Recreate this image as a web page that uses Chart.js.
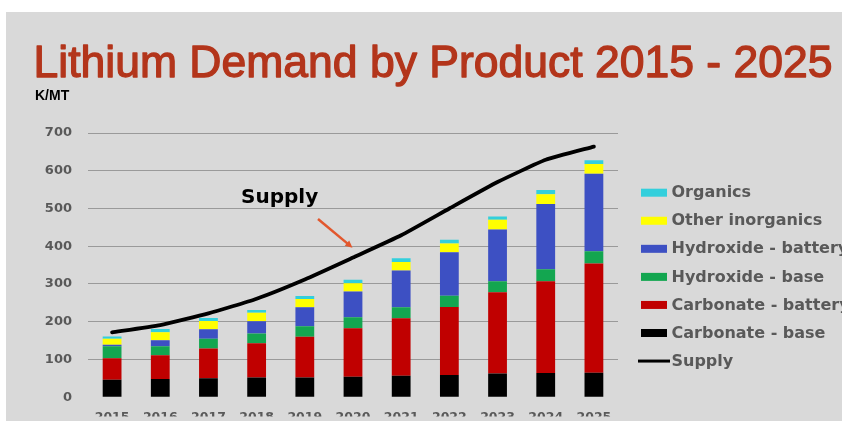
<!DOCTYPE html>
<html>
<head>
<meta charset="utf-8">
<title>Lithium Demand by Product 2015 - 2025</title>
<script src="https://cdn.jsdelivr.net/npm/chart.js@4/dist/chart.umd.min.js"></script>
<style>
  html, body { margin: 0; padding: 0; background: #ffffff; overflow: hidden; }
  #wrap { width: 842px; height: 421px; position: relative; }
</style>
</head>
<body>
<div id="wrap"><canvas id="chart" width="842" height="421"></canvas></div>
<script>
// Years on the category axis
const years = ['2015', '2016', '2017', '2018', '2019', '2020', '2021', '2022', '2023', '2024', '2025'];

// Demand by product, thousand metric tonnes (stacked bottom to top)
const carbonateBase    = [46, 48, 50, 52, 52, 54, 57, 59, 63, 64, 65];
const carbonateBattery = [57, 63, 79, 91, 108, 129, 152, 180, 215, 243, 289];
const hydroxideBase    = [32, 24, 26, 26, 28, 29, 29, 30, 29, 32, 33];
const hydroxideBattery = [4, 16, 25, 32, 50, 68, 98, 115, 137, 173, 205];
const otherInorganics  = [16, 21, 22, 23, 22, 22, 22, 23, 26, 26, 26];
const organics         = [6, 9, 8, 7, 8, 9, 10, 10, 9, 11, 10];

// Total supply
const supply = [172, 191, 222, 261, 312, 370, 429, 500, 570, 629, 664];

// Value axis
const yMax = 700;
const yStep = 100;

const GRID = '#9a9a9a';
const LABEL = '#595959';
const CHART_FONT = '"DejaVu Sans", sans-serif';

function barSet(label, data, color) {
  return {
    type: 'bar', label, data, backgroundColor: color, borderWidth: 0,
    stack: 'demand', order: 1, categoryPercentage: 1, barPercentage: 0.39
  };
}

// Slide backdrop, page title and unit caption
const slidePlugin = {
  id: 'slide',
  beforeDraw(chart) {
    const c = chart.ctx;
    c.save();
    c.fillStyle = '#ffffff';
    c.fillRect(0, 0, chart.width, chart.height);
    c.fillStyle = '#d9d9d9';
    c.fillRect(6, 12, chart.width - 6, chart.height - 12);
    c.restore();
  },
  afterDraw(chart) {
    const c = chart.ctx;
    c.save();
    c.textBaseline = 'alphabetic';
    c.textAlign = 'left';
    c.font = '44.5px "Liberation Sans", Arial, sans-serif';
    c.fillStyle = '#b3351b';
    c.strokeStyle = '#b3351b';
    c.lineWidth = 1.3;
    c.lineJoin = 'round';
    const title = 'Lithium Demand by Product 2015 - 2025';
    c.fillText(title, 33.5, 77);
    c.strokeText(title, 33.5, 77);
    c.font = 'bold 14px "Liberation Sans", Arial, sans-serif';
    c.fillStyle = '#000000';
    c.fillText('K/MT', 35, 100);
    c.restore();
  }
};

// "Supply" callout with an arrow pointing at the line
const calloutPlugin = {
  id: 'callout',
  afterDatasetsDraw(chart) {
    const c = chart.ctx;
    const x = chart.scales.x, y = chart.scales.y;
    c.save();
    c.font = 'bold 20px ' + CHART_FONT;
    c.fillStyle = '#000000';
    c.textBaseline = 'alphabetic';
    c.textAlign = 'left';
    c.fillText('Supply', 241, 203);
    const x0 = 318, y0 = 219;
    const x1 = x.getPixelForValue(5) - 0.5;
    const y1 = y.getPixelForValue(396);
    c.strokeStyle = '#e2572d';
    c.fillStyle = '#e2572d';
    c.lineWidth = 2.5;
    const ang = Math.atan2(y1 - y0, x1 - x0);
    const head = 8;
    c.beginPath();
    c.moveTo(x0, y0);
    c.lineTo(x1 - Math.cos(ang) * head * 0.7, y1 - Math.sin(ang) * head * 0.7);
    c.stroke();
    c.beginPath();
    c.moveTo(x1, y1);
    c.lineTo(x1 - head * Math.cos(ang - 0.45), y1 - head * Math.sin(ang - 0.45));
    c.lineTo(x1 - head * Math.cos(ang + 0.45), y1 - head * Math.sin(ang + 0.45));
    c.closePath();
    c.fill();
    c.restore();
  }
};

// Legend on the right: bar series listed top of stack first, then the line
const legendPlugin = {
  id: 'sideLegend',
  afterDraw(chart) {
    const c = chart.ctx;
    const sets = chart.data.datasets;
    const bars = sets.filter(d => d.type === 'bar').slice().reverse();
    const lines = sets.filter(d => d.type === 'line');
    const items = bars.concat(lines);
    c.save();
    c.font = 'bold 16px ' + CHART_FONT;
    c.textBaseline = 'middle';
    c.textAlign = 'left';
    items.forEach((d, i) => {
      const cy = 192.7 + i * 28.06;
      if (d.type === 'bar') {
        c.fillStyle = d.backgroundColor;
        c.fillRect(641, cy - 4, 26, 8);
      } else {
        c.strokeStyle = d.borderColor;
        c.lineWidth = 3;
        c.beginPath();
        c.moveTo(638, cy);
        c.lineTo(670, cy);
        c.stroke();
      }
      c.fillStyle = LABEL;
      c.fillText(d.label, 671.5, cy + 0.5);
    });
    c.restore();
  }
};

new Chart(document.getElementById('chart'), {
  data: {
    labels: years,
    datasets: [
      barSet('Carbonate - base', carbonateBase, '#000000'),
      barSet('Carbonate - battery', carbonateBattery, '#c00000'),
      barSet('Hydroxide - base', hydroxideBase, '#13a650'),
      barSet('Hydroxide - battery', hydroxideBattery, '#3d50c3'),
      barSet('Other inorganics', otherInorganics, '#ffff00'),
      barSet('Organics', organics, '#33cfdc'),
      {
        type: 'line', label: 'Supply', data: supply,
        borderColor: '#000000', backgroundColor: '#000000',
        borderWidth: 3.8, pointRadius: 0, tension: 0.15,
        borderCapStyle: 'round', order: 0, stack: 'supply'
      }
    ]
  },
  options: {
    responsive: false,
    animation: false,
    devicePixelRatio: 1,
    layout: { padding: { top: 133, right: 224, bottom: 0, left: 0 } },
    plugins: {
      legend: { display: false },
      tooltip: { enabled: false },
      title: { display: false }
    },
    scales: {
      x: {
        stacked: true,
        grid: { display: false, drawTicks: false },
        border: { display: false },
        ticks: {
          color: LABEL, padding: 13, maxRotation: 0,
          font: { family: CHART_FONT, weight: 'bold', size: 12.5 }
        },
        afterFit(scale) { scale.height = 19.3; }
      },
      y: {
        stacked: true,
        min: 0, max: yMax,
        grid: {
          drawTicks: false,
          color: ctx => (ctx.tick && ctx.tick.value === 0) ? 'rgba(0,0,0,0)' : GRID,
          lineWidth: 1
        },
        border: { display: false },
        ticks: {
          stepSize: yStep, color: LABEL, padding: 16,
          font: { family: CHART_FONT, weight: 'bold', size: 13 }
        },
        afterFit(scale) { scale.width = 88; }
      }
    }
  },
  plugins: [slidePlugin, calloutPlugin, legendPlugin]
});
</script>
</body>
</html>
